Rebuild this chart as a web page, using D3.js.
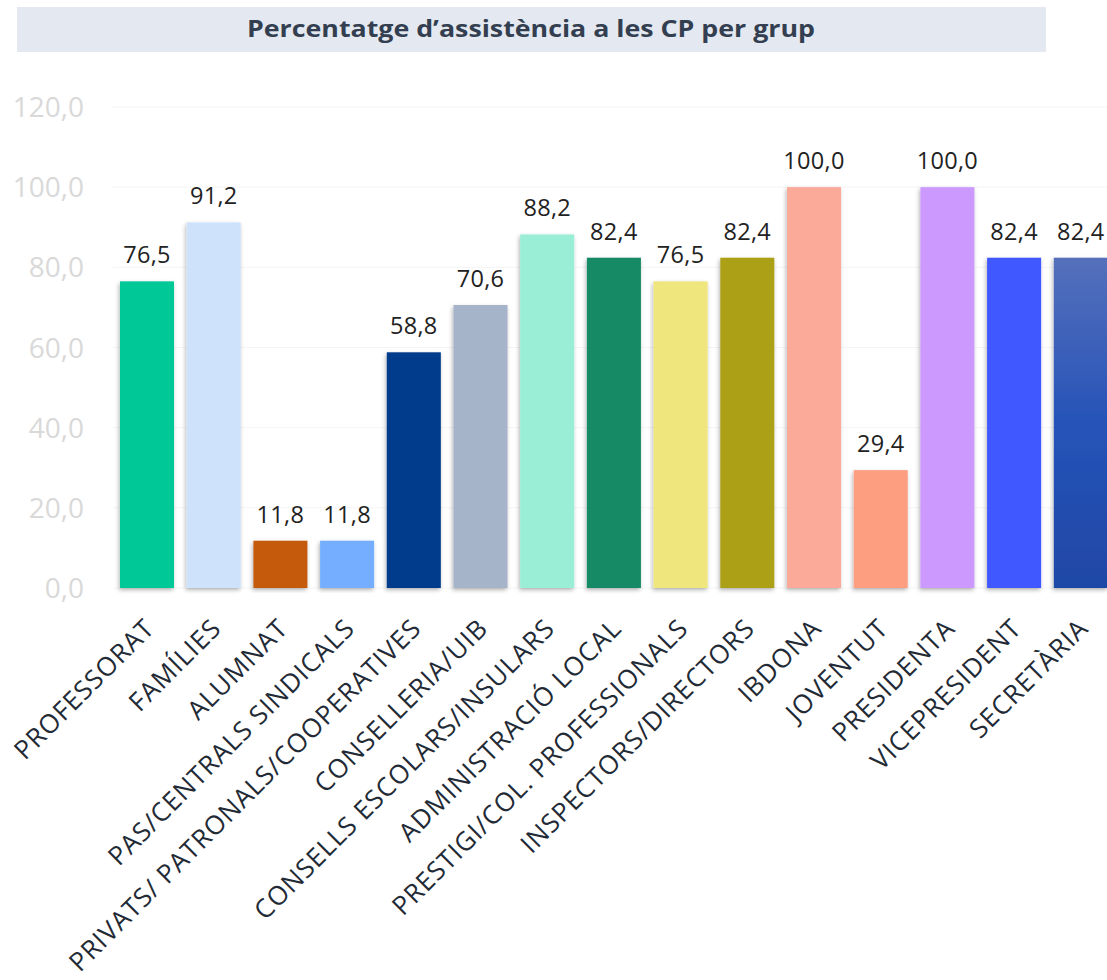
<!DOCTYPE html>
<html><head><meta charset="utf-8">
<script src="https://cdn.jsdelivr.net/npm/d3@7"></script>
<style>body{margin:0;background:#fff;font-family:"Open Sans","Noto Sans",sans-serif;}</style>
</head><body>
<svg id="chart" width="1107" height="980"></svg>
<script>
const categories = ["PROFESSORAT","FAMÍLIES","ALUMNAT","PAS/CENTRALS SINDICALS","PRIVATS/ PATRONALS/COOPERATIVES","CONSELLERIA/UIB","CONSELLS ESCOLARS/INSULARS","ADMINISTRACIÓ LOCAL","PRESTIGI/COL. PROFESSIONALS","INSPECTORS/DIRECTORS","IBDONA","JOVENTUT","PRESIDENTA","VICEPRESIDENT","SECRETÀRIA"];
const values = [76.5,91.2,11.8,11.8,58.8,70.6,88.2,82.4,76.5,82.4,100.0,29.4,100.0,82.4,82.4];
const colors = ["#00c896","#cfe2fc","#c55a11","#74aefe","#003a8c","#a5b4c8","#9aeed5","#168a65","#efe67d","#aca117","#fba999","#fd9e80","#cc99ff","#3f58ff","url(#gradSec)"];
const yTicks = [0,20,40,60,80,100,120];
const title = "Percentatge d’assistència a les CP per grup";

const svg = d3.select("#chart");
const fmt = v => d3.format(".1f")(v).replace(".", ",");

const defs = svg.append("defs");
const g = defs.append("linearGradient").attr("id","gradSec").attr("x1",0).attr("y1",0).attr("x2",0).attr("y2",1);
g.append("stop").attr("offset","0%").attr("stop-color","#5570bb");
g.append("stop").attr("offset","50%").attr("stop-color","#2653b8");
g.append("stop").attr("offset","100%").attr("stop-color","#1f48a6");
const f = defs.append("filter").attr("id","shadow").attr("x","-20%").attr("y","-5%").attr("width","140%").attr("height","115%");
f.append("feDropShadow").attr("dx",-1).attr("dy",2).attr("stdDeviation",2).attr("flood-color","#000").attr("flood-opacity",0.3);

// title
svg.append("rect").attr("x",17).attr("y",7).attr("width",1029).attr("height",45).attr("fill","#e3e8f1");
svg.append("text").attr("x",531).attr("y",37).attr("text-anchor","middle")
  .attr("font-size",24).attr("font-weight","bold").attr("fill","#333f50")
  .attr("textLength",568).attr("lengthAdjust","spacingAndGlyphs").text(title);

const y = d3.scaleLinear().domain([0,120]).range([588,107]);
const x = d3.scaleBand().domain(categories).range([113.66,1114.16]).paddingInner(0.19).paddingOuter(0.095);

// grid
svg.append("g").selectAll("line").data(yTicks).join("line")
  .attr("x1",113).attr("x2",1107).attr("y1",d=>y(d)).attr("y2",d=>y(d))
  .attr("stroke","#f4f4f4").attr("stroke-width",1);

// y labels
svg.append("g").selectAll("text").data(yTicks).join("text")
  .attr("x",84).attr("y",d=>y(d)+10).attr("text-anchor","end")
  .attr("font-size",28).attr("fill","#d9d9d9").text(d=>fmt(d));

// bars
svg.append("g").selectAll("rect").data(values).join("rect")
  .attr("x",(d,i)=>x(categories[i])).attr("width",x.bandwidth())
  .attr("y",d=>y(d)).attr("height",d=>y(0)-y(d))
  .attr("fill",(d,i)=>colors[i]).attr("filter","url(#shadow)");

// value labels
svg.append("g").selectAll("text").data(values).join("text")
  .attr("x",(d,i)=>x(categories[i])+x.bandwidth()/2).attr("y",d=>y(d)-18)
  .attr("text-anchor","middle").attr("font-size",23.5).attr("letter-spacing",0.3).attr("fill","#222").text(d=>fmt(d));

// x labels
svg.append("g").selectAll("text").data(categories).join("text")
  .attr("transform",d=>`translate(${x(d)+x.bandwidth()/2+9},${630}) rotate(-45)`)
  .attr("text-anchor","end").attr("font-size",26).attr("letter-spacing",0.9).attr("fill","#222a35").text(d=>d);
</script>
</body></html>
